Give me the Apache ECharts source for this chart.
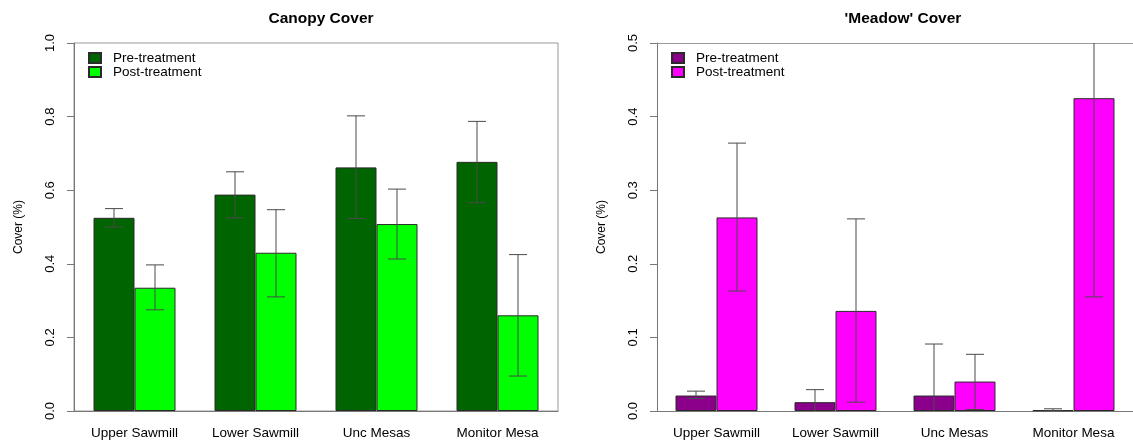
<!DOCTYPE html>
<html>
<head>
<meta charset="utf-8">
<script src="https://cdn.jsdelivr.net/npm/echarts@6/dist/echarts.min.js"></script>
<style>
    html, body { margin: 0; padding: 0; background: #fff; }
    #chart { width: 1133px; height: 442px; }
</style>
</head>
<body>
<div id="chart"></div>
<script>
    // sites along the x axis
    var sites = ['Upper Sawmill', 'Lower Sawmill', 'Unc Mesas', 'Monitor Mesa'];

    // canopy cover (left panel)
    var canopyPre = [0.525, 0.588, 0.662, 0.677];
    var canopyPreLow = [0.500, 0.525, 0.523, 0.566];
    var canopyPreHigh = [0.550, 0.650, 0.802, 0.787];
    var canopyPost = [0.335, 0.430, 0.508, 0.260];
    var canopyPostLow = [0.275, 0.310, 0.413, 0.095];
    var canopyPostHigh = [0.397, 0.547, 0.603, 0.425];

    // 'meadow' cover (right panel)
    var meadowPre = [0.021, 0.012, 0.021, 0.001];
    var meadowPreLow = [0.017, -0.005, -0.049, 0.000];
    var meadowPreHigh = [0.027, 0.029, 0.091, 0.003];
    var meadowPost = [0.263, 0.136, 0.040, 0.425];
    var meadowPostLow = [0.163, 0.012, 0.002, 0.155];
    var meadowPostHigh = [0.364, 0.261, 0.077, 0.695];

    var canopyTicks = [0, 1, 0.2];   // min, max, step
    var meadowTicks = [0, 0.5, 0.1];

    var font = 'Liberation Sans, Arial, sans-serif';
    var barW = 41;

    // error bar rows: [site index, low, high, offset]
    function errRows(lowPre, highPre, lowPost, highPost) {
        var rows = [];
        for (var i = 0; i < sites.length; i++) {
            rows.push([i, lowPre[i], highPre[i], -barW / 2]);
            rows.push([i, lowPost[i], highPost[i], barW / 2]);
        }
        return rows;
    }

    function renderErr(params, api) {
        var idx = api.value(0);
        var lo = api.coord([idx, api.value(1)]);
        var hi = api.coord([idx, api.value(2)]);
        var x = lo[0] + api.value(3);
        var cap = 9;
        var st = { stroke: '#4a4a4a', lineWidth: 1 };
        return {
            type: 'group',
            children: [
                { type: 'line', shape: { x1: x, y1: lo[1], x2: x, y2: hi[1] }, style: st },
                { type: 'line', shape: { x1: x - cap, y1: lo[1], x2: x + cap, y2: lo[1] }, style: st },
                { type: 'line', shape: { x1: x - cap, y1: hi[1], x2: x + cap, y2: hi[1] }, style: st }
            ]
        };
    }

    function xAxisOf(gi) {
        return {
            type: 'category',
            gridIndex: gi,
            data: sites,
            boundaryGap: true,
            axisTick: { show: false },
            axisLine: { lineStyle: { color: '#777' } },
            axisLabel: { color: '#000', fontSize: 13.5, fontFamily: font, margin: 15 }
        };
    }

    function yAxisOf(gi, ticks) {
        return {
            type: 'value',
            gridIndex: gi,
            min: ticks[0],
            max: ticks[1],
            interval: ticks[2],
            name: 'Cover (%)',
            nameLocation: 'middle',
            nameGap: 49,
            nameTextStyle: { color: '#000', fontSize: 12, fontFamily: font },
            splitLine: { show: false },
            axisLine: { show: true, lineStyle: { color: '#777' } },
            axisTick: { show: true, length: 7, lineStyle: { color: '#777' } },
            axisLabel: {
                color: '#000', fontSize: 13, fontFamily: font, rotate: 90, margin: 17,
                formatter: function(v) { return v.toFixed(1); }
            }
        };
    }

    function barSeries(name, data, color, gi) {
        return {
            name: name,
            type: 'bar',
            xAxisIndex: gi,
            yAxisIndex: gi,
            data: data,
            barWidth: barW,
            barGap: '0%',
            itemStyle: { color: color, borderColor: '#2a2a2a', borderWidth: 1 },
            emphasis: { disabled: true }
        };
    }

    var myChart = echarts.init(document.getElementById('chart'));
    var option = {
        animation: false,
        title: [{
            text: 'Canopy Cover', left: 316, top: 6, textAlign: 'center',
            textStyle: { fontSize: 15.5, fontWeight: 'bold', fontFamily: font, color: '#000' }
        }, {
            text: "'Meadow' Cover", left: 898, top: 6, textAlign: 'center',
            textStyle: { fontSize: 15.5, fontWeight: 'bold', fontFamily: font, color: '#000' }
        }],
        legend: [{
            orient: 'vertical', left: 88, top: 51, padding: 0, itemWidth: 12, itemHeight: 10, itemGap: 0,
            icon: 'rect',
            data: ['Pre-treatment', 'Post-treatment'],
            textStyle: { fontSize: 13.5, fontFamily: font, color: '#000', padding: [0, 0, 0, 7] }
        }, {
            orient: 'vertical', left: 671, top: 51, padding: 0, itemWidth: 12, itemHeight: 10, itemGap: 0,
            icon: 'rect',
            data: ['Pre-treatment ', 'Post-treatment '],
            formatter: function(n) { return n.trim(); },
            textStyle: { fontSize: 13.5, fontFamily: font, color: '#000', padding: [0, 0, 0, 7] }
        }],
        grid: [
            { left: 74, top: 43, width: 484, height: 368, show: true, borderColor: '#999', borderWidth: 1 },
            { left: 657, top: 43, width: 484, height: 368 }
        ],
        xAxis: [xAxisOf(0), xAxisOf(1), {
            // top frame line of the right panel, runs off the page edge
            type: 'category', gridIndex: 1, position: 'top', data: sites,
            axisTick: { show: false }, axisLabel: { show: false },
            axisLine: { lineStyle: { color: '#999' } }
        }],
        yAxis: [yAxisOf(0, canopyTicks), yAxisOf(1, meadowTicks)],
        series: [
            barSeries('Pre-treatment', canopyPre, '#006400', 0),
            barSeries('Post-treatment', canopyPost, '#00ff00', 0),
            barSeries('Pre-treatment ', meadowPre, '#8b008b', 1),
            barSeries('Post-treatment ', meadowPost, '#ff00ff', 1),
            {
                type: 'custom', xAxisIndex: 0, yAxisIndex: 0, clip: true, z: 5,
                renderItem: renderErr, encode: { x: 0, y: [1, 2] },
                data: errRows(canopyPreLow, canopyPreHigh, canopyPostLow, canopyPostHigh)
            },
            {
                type: 'custom', xAxisIndex: 1, yAxisIndex: 1, clip: true, z: 5,
                renderItem: renderErr, encode: { x: 0, y: [1, 2] },
                data: errRows(meadowPreLow, meadowPreHigh, meadowPostLow, meadowPostHigh)
            }
        ]
    };
    myChart.setOption(option);
    window.onresize = function() { myChart.resize(); };
</script>
</body>
</html>
